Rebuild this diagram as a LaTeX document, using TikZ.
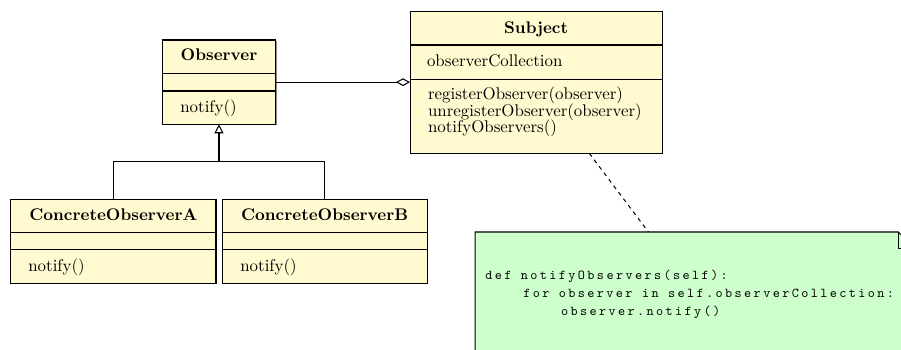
\documentclass[tikz,border=0pt]{standalone}
\usepackage{fontspec}
\usetikzlibrary{arrows.meta,shadows}
\definecolor{classfill}{RGB}{255,250,208}
\definecolor{notefill}{RGB}{204,255,204}
\def\pxu{0.5917pt}
\newfontfamily\codefam{lmmono10-regular.otf}[LetterSpace=17.8]
\newcommand\codetext{\codefam\fontsize{8}{10}\selectfont}
\begin{document}
\begin{tikzpicture}[x=0.5917pt, y=-0.5917pt,
  rule/.style={line width=0.6pt},
  cls/.style={draw, rule, fill=classfill, inner sep=0pt, outer sep=0pt,
    drop shadow={shadow xshift=0.6pt, shadow yshift=-0.6pt, fill=black!45, opacity=1}},
  boxsize/.style 2 args={minimum width=#1*\pxu, minimum height=#2*\pxu},
  lbl/.style={inner sep=0pt, font=\fontsize{10}{12}\selectfont},
  ttl/.style={inner sep=0pt, font=\fontsize{10}{12}\selectfont\bfseries},
  code/.style={inner sep=0pt, font=\codetext},
  conn/.style={line width=0.6pt}]
\useasboundingbox (0,0) rectangle (901,350);
\clip (0,0) rectangle (901,350);

% class boxes
\node[cls, boxsize={113.4}{84.3}] (obs)  at (219,82.15)    {};
\node[cls, boxsize={252.3}{141.6}] (subj) at (536.15,82.5) {};
\node[cls, boxsize={205.3}{84}]   (ca)   at (113.35,241.3) {};
\node[cls, boxsize={204.7}{84}]   (cb)   at (324.65,241.3) {};

% compartment separators
\foreach \n/\y in {obs/73.3, obs/91, subj/45, subj/79.3, ca/232.7, ca/249.3, cb/232.7, cb/249.3}
  \draw[rule] (\n.west |- 0,\y) -- (\n.east |- 0,\y);

% class texts
\node[ttl, anchor=base] (obsname) at (219,61) {Observer};
\node[lbl, anchor=base west] (obsop) at (180,113) {notify()};

\node[ttl, anchor=base] (subjname) at (536.15,33.3) {Subject};
\node[lbl, anchor=base west] (subjattr) at (426.7,66.7) {observerCollection};
\node[lbl, anchor=base west] (subjop1) at (427.7,100) {registerObserver(observer)};
\node[lbl, anchor=base west] (subjop2) at (427.7,116.7) {unregisterObserver(observer)};
\node[lbl, anchor=base west] (subjop3) at (427.7,132.7) {notifyObservers()};

\node[ttl, anchor=base] (caname) at (113.35,221) {ConcreteObserverA};
\node[lbl, anchor=base west] (caop) at (28,271) {notify()};
\node[ttl, anchor=base] (cbname) at (324.65,221) {ConcreteObserverB};
\node[lbl, anchor=base west] (cbop) at (240,271) {notify()};

% note with folded corner
\node[inner sep=0pt, outer sep=0pt, boxsize={439}{123}] (note) at (694.5,293.5) {};
\draw[rule, fill=notefill] (note.north west) -- (898.3,232) -- (914,248.3)
  -- (note.south east) -- (note.south west) -- cycle;
\draw[rule] (898.3,232) -- (898.3,248.3) -- (914,248.3);
\node[code, anchor=base west] (code1) at (485,279.3) {def notifyObservers(self):};
\node[code, anchor=base west] (code2) at (523,297.3) {for observer in self.observerCollection:};
\node[code, anchor=base west] (code3) at (560.7,315) {observer.notify()};

% connectors
\draw[conn, dash pattern=on 2.4pt off 2.4pt] (subj) -- (note);
\draw[conn, -{Diamond[open, length=8.3pt, width=4.6pt]}] (obs.east) -- (obs.east -| subj.west);
\coordinate (junction) at (219,161.7);
\draw[conn] (ca.north) |- (junction) -| (cb.north);
\draw[conn, -{Triangle[open, length=5.3pt, width=5.3pt]}] (junction) -- (obs.south);
\end{tikzpicture}
\end{document}
